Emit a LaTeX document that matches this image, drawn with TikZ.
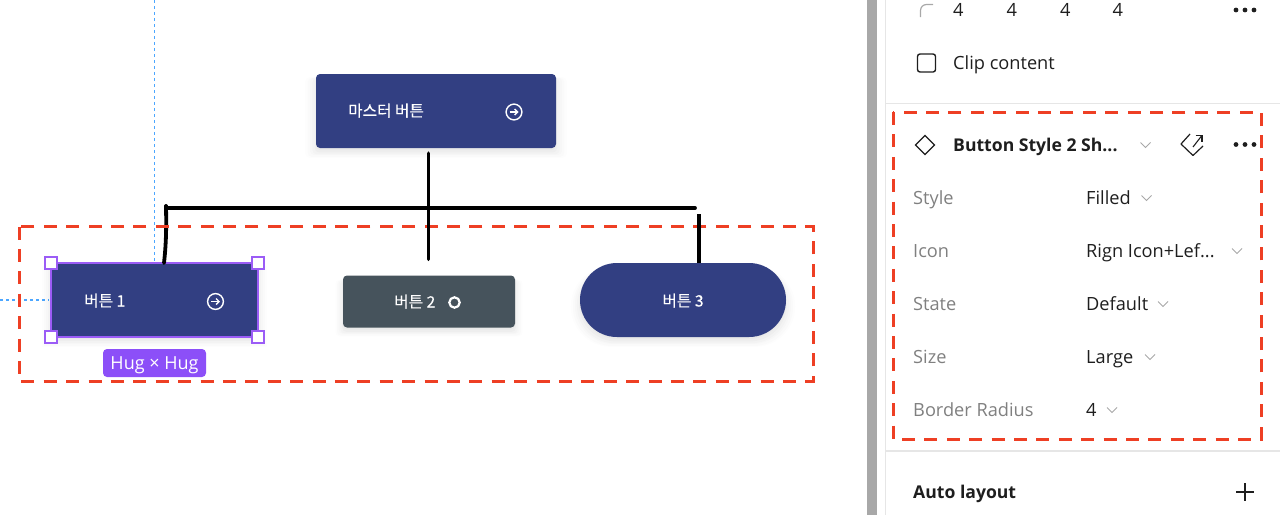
\documentclass[tikz,border=0pt]{standalone}
\usepackage{fontspec}
\setmainfont{Open Sans}
\newfontfamily\krfont[FakeBold=0.3]{Noto Sans CJK KR}
\usetikzlibrary{arrows.meta,positioning,shadows}

\definecolor{navybtn}{HTML}{323F82}
\definecolor{slatebtn}{HTML}{46535C}
\definecolor{selectpurple}{HTML}{9B5CF6}
\definecolor{hugpurple}{HTML}{8C4FF8}
\definecolor{markred}{HTML}{EE3F24}
\definecolor{guideblue}{HTML}{4BA6FF}
\definecolor{panelgray}{HTML}{E6E6E6}
\definecolor{labelgray}{HTML}{808080}
\definecolor{chevgray}{HTML}{A8A8A8}
\definecolor{inkdark}{HTML}{1E1E1E}

\tikzset{
	softshadow/.style={
		general shadow={fill=black,opacity=.008,shadow yshift=-6pt,shadow scale=1.09},
		general shadow={fill=black,opacity=.01,shadow yshift=-6pt,shadow scale=1.07},
		general shadow={fill=black,opacity=.012,shadow yshift=-5pt,shadow scale=1.05},
		general shadow={fill=black,opacity=.015,shadow yshift=-5pt,shadow scale=1.03},
		general shadow={fill=black,opacity=.018,shadow yshift=-4pt,shadow scale=1.01},
		general shadow={fill=black,opacity=.02,shadow yshift=-2pt}},
	btnbox/.style={rectangle,draw=none,inner sep=0pt,rounded corners=4pt,softshadow},
	btntext/.style={font=\krfont\fontsize{15.7}{18}\selectfont,text=white,inner sep=0pt,text height=11pt,text depth=0pt},
	arrowring/.style={circle,draw=white,line width=1.4pt,minimum size=15.8pt,outer sep=0pt,inner sep=0pt},
	handle/.style={rectangle,fill=white,draw=selectpurple,line width=2pt,minimum size=12pt,outer sep=0pt,inner sep=0pt},
	markbox/.style={draw=markred,line width=3pt,dash pattern=on 13pt off 9.4pt},
	guide/.style={draw=guideblue,line width=1.3pt,dash pattern=on 3pt off 3pt},
	handline/.style={draw=black,line width=3.8pt,line cap=round},
	proptext/.style={font=\fontsize{18.2}{22}\selectfont,text=inkdark,anchor=west,inner sep=0pt,text height=13pt,text depth=0pt},
	propname/.style={proptext,text=labelgray},
	propbold/.style={proptext,font=\bfseries\fontsize{17.6}{22}\selectfont},
	chev/.style={draw=chevgray,line width=1pt},
	dot/.style={circle,fill=inkdark,minimum size=4.8pt,inner sep=0pt}
}
\newcommand{\chevat}[2]{\draw[chev] (#1-5,#2-2.5) -- (#1,#2+2.5) -- (#1+5,#2-2.5);}

\begin{document}
\begin{tikzpicture}[x=1pt,y=-1pt]
	\useasboundingbox (0,0) rectangle (1280,515);

	% canvas guides
	\coordinate (guidetop) at (154.5,0);
	\coordinate (guidebot) at (154.5,262);
	\coordinate (guideleft) at (0,300);
	\coordinate (guideright) at (49,300);
	\draw[guide] (guidetop) -- (guidebot);
	\draw[guide] (guideleft) -- (guideright);

	% buttons
	\node[btnbox,fill=navybtn,minimum width=240pt,minimum height=74pt] (master) at (436,111) {};
	\node[btnbox,fill=navybtn,rounded corners=0pt,draw=selectpurple,line width=2pt,outer sep=0pt,minimum width=207pt,minimum height=74pt] (btnA) at (154.5,300) {};
	\node[btnbox,fill=slatebtn,minimum width=172pt,minimum height=52pt] (btnB) at (429,301.5) {};
	\node[btnbox,fill=navybtn,rounded corners=36.9pt,minimum width=206pt,minimum height=74pt,btntext,text height=13pt] (btnC) at (683,300) {버튼 3};

	\node[btntext,anchor=west] (masterlabel) at (348,111) {마스터 버튼};
	\node[btntext,anchor=west] (labelA) at (84,301) {버튼 1};
	\node[btntext,anchor=west] (labelB) at (394,302) {버튼 2};

	% icons
	\node[arrowring] (masterring) at (514,112) {};
	\draw[white,line width=1.4pt,-{Straight Barb[length=3pt,width=6pt]}] (509.5,112) -- (518.5,112);
	\node[arrowring] (ringA) at (215.5,301.5) {};
	\draw[white,line width=1.4pt,-{Straight Barb[length=3pt,width=6pt]}] (211,301.5) -- (220,301.5);
	\node[circle,draw=white,line width=2.2pt,minimum size=10.4pt,outer sep=0pt,inner sep=0pt] (ringB) at (454.5,302.5) {};

	% selection
	\node[handle] (hnw) at (btnA.north west) {};
	\node[handle] (hne) at (btnA.north east) {};
	\node[handle] (hsw) at (btnA.south west) {};
	\node[handle] (hse) at (btnA.south east) {};
	\node[rectangle,fill=hugpurple,rounded corners=4pt,minimum width=103pt,minimum height=28pt,inner sep=0pt,text=white,font=\fontsize{18}{22}\selectfont,text height=13pt,text depth=0pt] (hug) at (154.5,363) {Hug × Hug};

	% hand drawn connectors
	\coordinate (barleft) at (166,206);
	\coordinate (barright) at (695,208);
	\coordinate (dropright) at (699,214);
	\draw[handline] (barleft) .. controls (166.5,230) and (166,245) .. (btnA.north -| 164,0);
	\draw[markbox] (19,226.5) rectangle (813,381);
	\draw[handline] (barleft) -- (166,208) -- (barright);
	\draw[handline,shorten <=5pt,shorten >=16pt] ([xshift=-.5pt]btnB.north |- master.south) -- ([xshift=-.5pt]btnB.north);
	\draw[handline,line cap=butt] (dropright) -- (dropright |- btnC.north);

	% side panel
	\fill[chevgray] (867,0) rectangle (876.5,515);
	\coordinate (edgetop) at (885.5,0);
	\coordinate (edgebot) at (885.5,515);
	\coordinate (rulea) at (886,103.5);
	\coordinate (ruleb) at (886,451);
	\draw[panelgray,line width=1.3pt] (edgetop) -- (edgebot);
	\draw[panelgray,line width=1.3pt] (rulea) -- (rulea -| 1280,0);
	\draw[panelgray,line width=1.3pt] (ruleb) -- (ruleb -| 1280,0);

	\draw[chevgray,line width=1.2pt,rounded corners=6pt] (920.5,17) -- (920.5,4.5) -- (933,4.5);
	\node[proptext] (radA) at (953,10) {4};
	\node[proptext] (radB) at (1006.5,10) {4};
	\node[proptext] (radC) at (1060,10) {4};
	\node[proptext] (radD) at (1112.5,10) {4};
	\node[dot] (dotA) at (1236,10) {};
	\node[dot] (dotB) at (1245,10) {};
	\node[dot] (dotC) at (1254,10) {};

	\node[rectangle,draw=inkdark,line width=1.4pt,rounded corners=2.5pt,minimum size=18pt,inner sep=0pt] (clipbox) at (926.5,63) {};
	\node[proptext] (clip) at (953,63) {Clip content};

	\draw[markbox] (893,112) rectangle (1261,439);

	\draw[inkdark,line width=1.2pt] (925,135.5) -- (934.5,145) -- (925,154.5) -- (915.5,145) -- cycle;
	\node[propbold] (comp) at (953,145) {Button Style 2 Sh...};
	\chevat{1145.5}{145}
	\draw[inkdark,line width=1.2pt,line join=round] (1190,134) -- (1181,144) -- (1193,155.5) -- (1203,146);
	\draw[inkdark,line width=1.1pt] (1193,147) -- (1201.5,136);
	\draw[inkdark,line width=1.1pt] (1195.5,135.5) -- (1202,135.5) -- (1202,142);
	\node[dot] (dotD) at (1236,144.5) {};
	\node[dot] (dotE) at (1245,144.5) {};
	\node[dot] (dotF) at (1254,144.5) {};

	\node[propname] (nameA) at (913,198) {Style};
	\node[proptext] (valA) at (1086,198) {Filled};
	\chevat{1146.5}{198}
	\node[propname] (nameB) at (913,251) {Icon};
	\node[proptext] (valB) at (1086,251) {Rign Icon+Lef...};
	\chevat{1237}{251}
	\node[propname] (nameC) at (913,304) {State};
	\node[proptext] (valC) at (1086,304) {Default};
	\chevat{1163}{304}
	\node[propname] (nameD) at (913,357) {Size};
	\node[proptext] (valD) at (1086,357) {Large};
	\chevat{1150}{357}
	\node[propname] (nameE) at (913,410) {Border Radius};
	\node[proptext] (valE) at (1086,410) {4};
	\chevat{1112}{410}

	\node[propbold] (auto) at (913,492) {Auto layout};
	\draw[inkdark,line width=1.3pt] (1236,492) -- (1254,492);
	\draw[inkdark,line width=1.3pt] (1245,483) -- (1245,501);
\end{tikzpicture}
\end{document}
